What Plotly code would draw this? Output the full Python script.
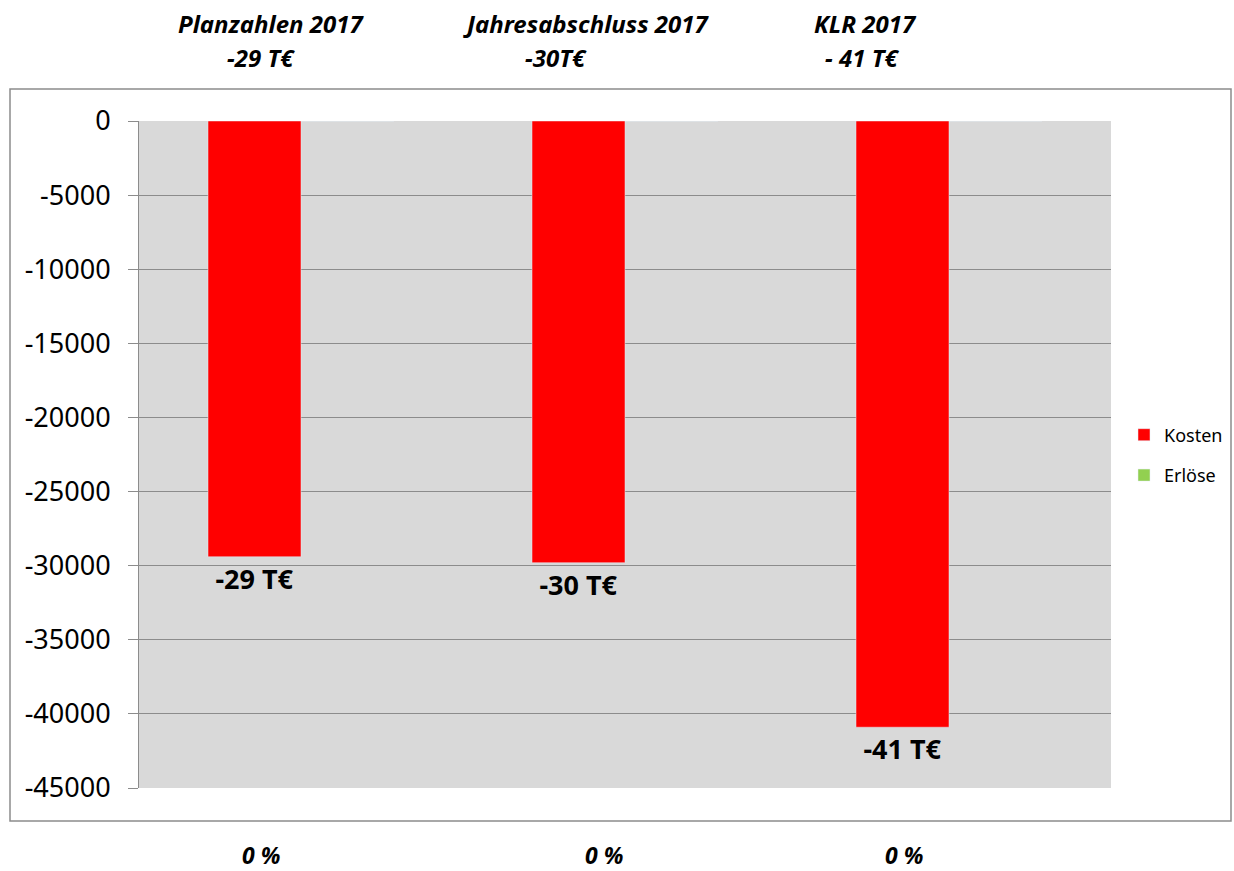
import plotly.graph_objects as go

# %%
categories = ["Planzahlen 2017", "Jahresabschluss 2017", "KLR 2017"]
kosten = [-29400, -29800, -40900]
erloese = [0, 0, 0]
kosten_labels = ["-29 T€", "-30 T€", "-41 T€"]

header_line1 = ["Planzahlen 2017", "Jahresabschluss 2017", "KLR 2017"]
header_line2 = ["-29 T€", "-30T€", "- 41 T€"]
percent_labels = ["0 %", "0 %", "0 %"]

y_tickvals = [0, -5000, -10000, -15000, -20000, -25000, -30000, -35000, -40000, -45000]
y_ticktext = ["0", "-5000", "-10000", "-15000", "-20000", "-25000",
              "-30000", "-35000", "-40000", "-45000"]

# page pixels; body margin is removed in post_script below
W, H = 1234, 871
L, R, T, B = 139, 1111, 121, 788


def px_x(x):
    return (x - L) / (R - L)


def px_y(y):
    return (B - y) / (B - T)


FONT = "Noto Sans"

fig = go.Figure()
fig.add_trace(
    go.Bar(
        x=categories,
        y=kosten,
        name="Kosten",
        marker_color="#ff0000",
        text=kosten_labels,
        textposition="outside",
        textfont=dict(family=FONT, size=27, color="black", weight="bold"),
        cliponaxis=False,
        legendgroup="k",
    )
)
fig.add_trace(
    go.Bar(
        x=categories,
        y=erloese,
        name="Erlöse",
        marker_color="#92d050",
        legendgroup="e",
    )
)

header_x = [[271, 261], [586, 556], [865, 862]]
for i in range(3):
    fig.add_annotation(
        x=px_x(header_x[i][0]), y=px_y(23), xref="paper", yref="paper",
        xanchor="center", yanchor="middle",
        text=f"<b><i>{header_line1[i]}</i></b>", showarrow=False,
        font=dict(family=FONT, size=24, color="black"),
    )
    fig.add_annotation(
        x=px_x(header_x[i][1]), y=px_y(58), xref="paper", yref="paper",
        xanchor="center", yanchor="middle",
        text=f"<b><i>{header_line2[i]}</i></b>", showarrow=False,
        font=dict(family=FONT, size=24, color="black"),
    )

pct_x = [261, 604, 904]
for i in range(3):
    fig.add_annotation(
        x=px_x(pct_x[i]), y=px_y(855), xref="paper", yref="paper",
        xanchor="center", yanchor="middle",
        text=f"<b><i>{percent_labels[i]}</i></b>", showarrow=False,
        font=dict(family=FONT, size=23, color="black"),
    )

# outer chart border
fig.add_shape(
    type="rect", xref="paper", yref="paper",
    x0=px_x(10), x1=px_x(1231), y0=px_y(821), y1=px_y(89),
    line=dict(color="#8c8c8c", width=1.5), fillcolor="rgba(0,0,0,0)",
)

fig.update_layout(
    width=W,
    height=H,
    margin=dict(l=L, r=W - R, t=T, b=H - B, autoexpand=False),
    paper_bgcolor="white",
    plot_bgcolor="#d9d9d9",
    barmode="group",
    bargap=0.426,
    bargroupgap=0,
    font=dict(family=FONT, color="black"),
    legend=dict(
        x=px_x(1124), y=px_y(455), xanchor="left", yanchor="middle",
        font=dict(family=FONT, size=18, color="black"),
        traceorder="grouped", tracegroupgap=14,
        bgcolor="rgba(0,0,0,0)",
    ),
    showlegend=True,
)
fig.update_xaxes(showticklabels=False, showgrid=False, zeroline=False, showline=False)
fig.update_yaxes(
    range=[-45000, 0],
    tickmode="array",
    tickvals=y_tickvals,
    ticktext=y_ticktext,
    showgrid=True,
    gridcolor="#8c8c8c",
    gridwidth=1,
    zeroline=False,
    showline=True,
    linecolor="#8c8c8c",
    linewidth=1,
    ticks="outside",
    ticklen=10,
    tickcolor="#8c8c8c",
    ticklabelstandoff=12,
    tickfont=dict(family=FONT, size=27, color="black"),
)

fig.write_html(
    "out.html",
    config={"displayModeBar": False},
    post_script="document.body.style.margin='0';document.body.style.overflow='hidden';",
)
